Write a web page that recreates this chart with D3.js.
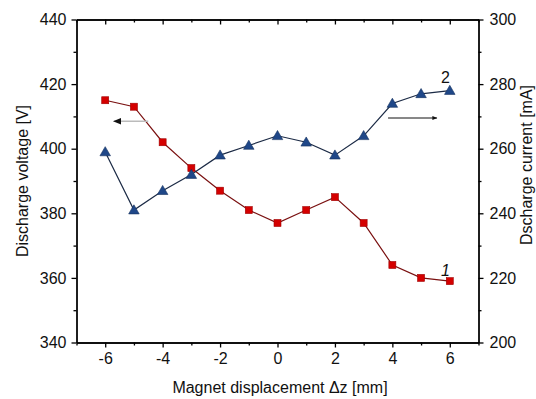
<!DOCTYPE html>
<html><head><meta charset="utf-8">
<script src="https://cdn.jsdelivr.net/npm/d3@7"></script>
<style>body{margin:0;background:#fff}svg{display:block;font-family:Arial,"Liberation Sans",sans-serif}</style>
</head><body><svg id="c" width="536" height="399"></svg>
<script>
const displacement = [-6,-5,-4,-3,-2,-1,0,1,2,3,4,5,6];
const voltage = [415,413,402,394,387,381,377,381,385,377,364,360,359];
const current = [259,241,247,252,258,261,264,262,258,264,274,277,278];
const xTicks = [-6,-4,-2,0,2,4,6];
const yLeftTicks = [340,360,380,400,420,440];
const yRightTicks = [200,220,240,260,280,300];

const svg = d3.select("#c");
const L=76.5, R=478.5, T=19.5, B=342.5;
const x = d3.scaleLinear().domain([-7,7]).range([L,R]);
const yL = d3.scaleLinear().domain([340,440]).range([B,T]);
const yR = d3.scaleLinear().domain([200,300]).range([B,T]);

const minorX = d3.range(-7,7.01,1).filter(v=>v%2!==0);
const minorYL = d3.range(350,440,20);
const minorYR = d3.range(210,300,20);
const FS = 16;

function style(g){g.select(".domain").attr("stroke","#000").attr("stroke-width",1.3);
  g.selectAll(".tick line").attr("stroke","#000").attr("stroke-width",1.3);
  g.selectAll(".tick text").attr("font-size",FS).attr("fill","#111");}
const fmt = d=>String(d);

// bottom
svg.append("g").attr("transform",`translate(0,${B})`)
  .call(d3.axisBottom(x).tickValues(xTicks).tickSize(5).tickSizeOuter(0).tickPadding(5).tickFormat(fmt)).call(style);
svg.append("g").attr("transform",`translate(0,${B})`)
  .call(d3.axisBottom(x).tickValues(minorX).tickSize(3).tickSizeOuter(0).tickFormat("")).call(style);
// top
svg.append("g").attr("transform",`translate(0,${T})`)
  .call(d3.axisBottom(x).tickValues(xTicks).tickSize(5).tickSizeOuter(0).tickFormat("")).call(style);
svg.append("g").attr("transform",`translate(0,${T})`)
  .call(d3.axisBottom(x).tickValues(minorX).tickSize(3).tickSizeOuter(0).tickFormat("")).call(style);
// left
svg.append("g").attr("transform",`translate(${L},0)`)
  .call(d3.axisLeft(yL).tickValues(yLeftTicks).tickSize(5).tickSizeOuter(0).tickPadding(5).tickFormat(fmt)).call(style);
svg.append("g").attr("transform",`translate(${L},0)`)
  .call(d3.axisLeft(yL).tickValues(minorYL).tickSize(3).tickSizeOuter(0).tickFormat("")).call(style);
// right
svg.append("g").attr("transform",`translate(${R},0)`)
  .call(d3.axisRight(yR).tickValues(yRightTicks).tickSize(5).tickSizeOuter(0).tickPadding(6).tickFormat(fmt)).call(style);
svg.append("g").attr("transform",`translate(${R},0)`)
  .call(d3.axisRight(yR).tickValues(minorYR).tickSize(3).tickSizeOuter(0).tickFormat("")).call(style);

// axis titles
svg.append("text").attr("x",280).attr("y",393).attr("text-anchor","middle").attr("font-size",FS).attr("fill","#111")
  .text("Magnet displacement Δz [mm]");
svg.append("text").attr("transform","translate(28,181) rotate(-90)").attr("text-anchor","middle").attr("font-size",FS).attr("fill","#111")
  .text("Discharge voltage [V]");
svg.append("text").attr("transform","translate(532,165) rotate(-90)").attr("text-anchor","middle").attr("font-size",FS).attr("fill","#111")
  .text("Dscharge current [mA]");

// series
const vData = displacement.map((d,i)=>({x:d,y:voltage[i]}));
const cData = displacement.map((d,i)=>({x:d,y:current[i]}));
svg.append("path").datum(vData).attr("fill","none").attr("stroke","#7a1010").attr("stroke-width",1.2)
  .attr("d",d3.line().x(d=>x(d.x)).y(d=>yL(d.y)));
svg.append("path").datum(cData).attr("fill","none").attr("stroke","#1b2a45").attr("stroke-width",1.2)
  .attr("d",d3.line().x(d=>x(d.x)).y(d=>yR(d.y)));
svg.selectAll(".sq").data(vData).join("rect").attr("x",d=>x(d.x)-3.5).attr("y",d=>yL(d.y)-3.5)
  .attr("width",7).attr("height",7).attr("fill","#d40000").attr("stroke","#a00000").attr("stroke-width",0.6);
const tri = d3.symbol().type(d3.symbolTriangle).size(48);
svg.selectAll(".tr").data(cData).join("path").attr("d",tri)
  .attr("transform",d=>`translate(${x(d.x)},${yR(d.y)+0.8})`).attr("fill","#1f4788").attr("stroke","#14305e").attr("stroke-width",0.6);

// direction arrows
const defs = svg.append("defs");
defs.append("marker").attr("id","ah").attr("viewBox","0 0 10 10").attr("refX",9).attr("refY",5)
  .attr("markerWidth",7).attr("markerHeight",5).attr("orient","auto-start-reverse")
  .append("path").attr("d","M0,1 L10,5 L0,9 z").attr("fill","#111");
svg.append("line").attr("x1",x(-4.5)).attr("x2",x(-5.7)).attr("y1",yL(408.5)).attr("y2",yL(408.5))
  .attr("stroke","#bbb").attr("stroke-width",1.6).attr("marker-end","url(#ah)");
svg.append("line").attr("x1",x(3.85)).attr("x2",x(5.55)).attr("y1",yR(269.5)).attr("y2",yR(269.5))
  .attr("stroke","#111").attr("stroke-width",1).attr("marker-end","url(#ah)");

// series labels
svg.append("text").attr("x",x(5.85)).attr("y",yR(280.3)).attr("text-anchor","middle").attr("font-size",FS).attr("fill","#111").text("2");
svg.append("text").attr("x",x(5.85)).attr("y",yL(360.5)).attr("text-anchor","middle").attr("font-size",FS).attr("font-style","italic").attr("fill","#111").text("1");
</script></body></html>
